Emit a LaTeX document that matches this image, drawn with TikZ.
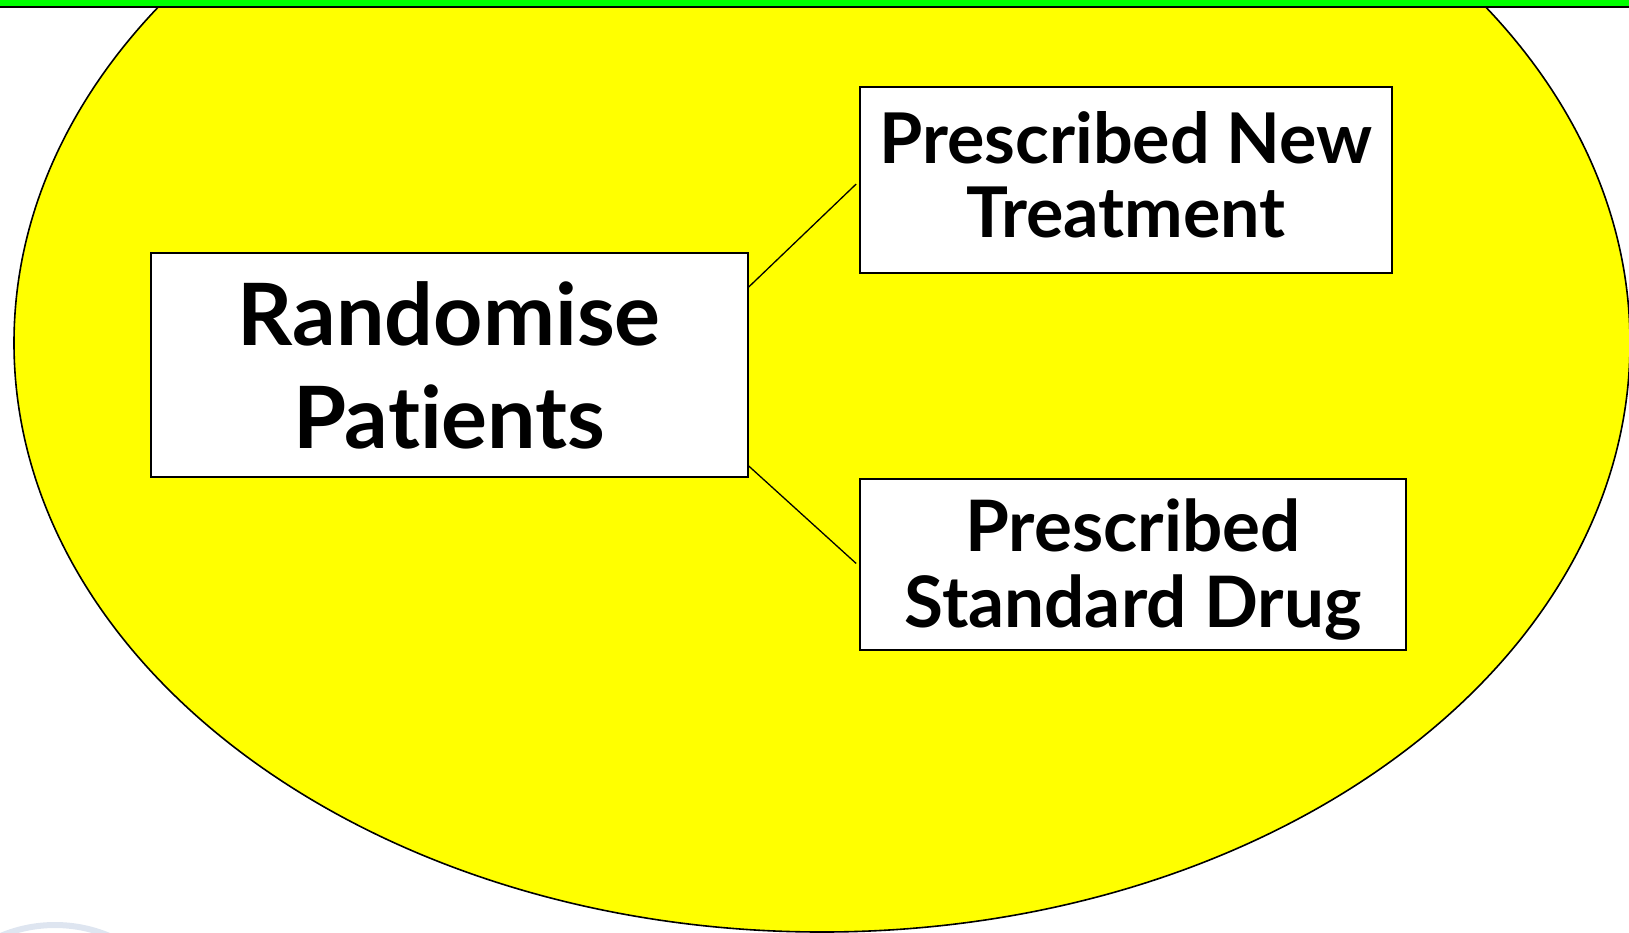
\documentclass[tikz,border=0pt]{standalone}
\usepackage{fontspec}
\setmainfont{Lato}[Ligatures=NoCommon]
\usetikzlibrary{calc}
\definecolor{bgyellow}{RGB}{255,255,0}
\definecolor{bargreen}{RGB}{0,255,0}
\definecolor{faintblue}{RGB}{222,229,240}
\begin{document}
\begin{tikzpicture}[x=1pt,y=-1pt,
  box/.style={draw=black, line width=1.6pt, fill=white, inner sep=0pt},
  caption/.style={align=center, inner sep=0pt},
  link/.style={draw=black, line width=1.3pt}]
\useasboundingbox (0,0) rectangle (1629,932);
\begin{scope}
  \clip (0,0) rectangle (1629,932);
  % large yellow ellipse
  \filldraw[fill=bgyellow, draw=black, line width=1.6pt] (822,343) ellipse [x radius=808, y radius=589];
  % faint arc in the lower left corner
  \draw[faintblue, line width=6pt] (55,1065) circle [radius=140];
  % green band along the top
  \filldraw[fill=bargreen, draw=black, line width=1.5pt] (-5,-5) rectangle (1634,7);
\end{scope}

% boxes, each with its two-line caption
\node[box, minimum width=597pt, minimum height=224pt,
      label={[caption, font=\fontsize{86}{103}\selectfont\bfseries]center:Randomise\\Patients}]
      (rand) at (449.2,365) {};
\node[box, minimum width=532pt, minimum height=186pt,
      label={[caption, yshift=5pt, font=\fontsize{70}{74}\selectfont\bfseries]center:Prescribed New\\Treatment}]
      (newt) at (1126,180) {};
\node[box, minimum width=546pt, minimum height=171pt,
      label={[caption, yshift=-5pt, font=\fontsize{71}{76}\selectfont\bfseries]center:Prescribed\\Standard Drug}]
      (std) at (1133,564.5) {};

% connectors from the randomisation box to the two arms
\draw[link] ($(rand.north east)+(0,35)$) -- ($(newt.west)+(-3,4)$);
\draw[link] ($(rand.south east)+(0,-12)$) -- ($(std.west)+(-3,-1)$);
\end{tikzpicture}
\end{document}
